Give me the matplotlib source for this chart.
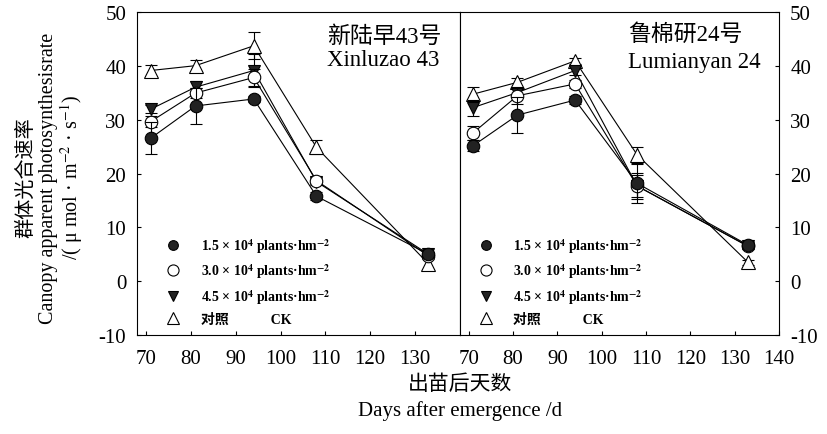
import matplotlib
matplotlib.use("Agg")
import matplotlib.pyplot as plt
from matplotlib.lines import Line2D

plt.rcParams['font.family'] = ['Liberation Serif', 'Noto Sans CJK SC']
plt.rcParams['mathtext.fontset'] = 'stix'
plt.rcParams['axes.unicode_minus'] = False

days = [71, 81, 94, 108, 133]

# Xinluzao 43
xl_15 = [26.6, 32.6, 33.9, 15.8, 5.0]
xl_15_err = [3.0, 3.4, 0.6, 0.7, 0.5]
xl_30 = [29.7, 35.0, 37.9, 18.7, 4.7]
xl_30_err = [1.0, 1.0, 1.6, 0.6, 0.5]
xl_45 = [32.0, 36.1, 39.2, 18.5, 5.0]
xl_45_err = [0.8, 1.2, 3.0, 0.6, 0.5]
xl_ck = [39.2, 40.1, 43.8, 24.9, 3.2]
xl_ck_err = [1.0, 1.0, 2.5, 1.3, 1.2]

# Lumianyan 24
lm_15 = [25.2, 30.9, 33.7, 18.2, 6.7]
lm_15_err = [1.0, 3.3, 0.8, 3.6, 0.5]
lm_30 = [27.6, 34.5, 36.7, 17.7, 6.5]
lm_30_err = [1.3, 1.5, 0.8, 2.5, 0.5]
lm_45 = [32.3, 35.1, 39.2, 17.7, 6.5]
lm_45_err = [1.5, 0.8, 0.8, 2.0, 0.5]
lm_ck = [34.8, 37.0, 41.0, 23.5, 3.5]
lm_ck_err = [1.3, 0.8, 0.6, 1.5, 0.5]

labels = [r"1.5 × 10$^{\mathbf{4}}$ plants·hm$^{\mathbf{-2}}$",
          r"3.0 × 10$^{\mathbf{4}}$ plants·hm$^{\mathbf{-2}}$",
          r"4.5 × 10$^{\mathbf{4}}$ plants·hm$^{\mathbf{-2}}$",
          "对照            CK"]
markers = ['o', 'o', 'v', '^']
faces = ['#222222', 'white', '#222222', 'white']

fig = plt.figure(figsize=(8.27, 4.35), dpi=100)
axl = fig.add_axes([0.166, 0.228, 0.39, 0.741])
axr = fig.add_axes([0.556, 0.228, 0.386, 0.741])


def draw(ax, series, errs, leg_x):
    # draw CK first so treatments stay on top
    for i in [3, 2, 1, 0]:
        ax.errorbar(days, series[i], yerr=errs[i], color='black', lw=0.8,
                    marker=markers[i], ms=9 if i != 3 else 10,
                    mfc=faces[i], mec='black', mew=0.8,
                    capsize=4, elinewidth=0.8, capthick=0.8, zorder=3 + (3 - i))
    ax.set_xlim(68, 140)
    ax.set_ylim(-10, 50)
    ax.set_yticks(range(-10, 51, 10))
    ax.tick_params(direction='in', length=3, labelsize=15, width=0.8, pad=8)
    ax.tick_params(axis='x', pad=10)
    for s in ax.spines.values():
        s.set_linewidth(0.8)
    handles = [Line2D([], [], ls='none', marker=markers[i], ms=7 if i in (0, 2) else 8,
                      mfc=faces[i], mec='black', mew=0.8) for i in range(4)]
    ax.legend(handles, labels, loc='lower left', bbox_to_anchor=(leg_x, -0.012),
              frameon=False, handlelength=1.0, handletextpad=1.5,
              labelspacing=0.5, prop={'weight': 'bold', 'size': 10,
                                      'family': ['Liberation Serif', 'Noto Sans CJK SC']})


draw(axl, [xl_15, xl_30, xl_45, xl_ck], [xl_15_err, xl_30_err, xl_45_err, xl_ck_err], 0.05)
draw(axr, [lm_15, lm_30, lm_45, lm_ck], [lm_15_err, lm_30_err, lm_45_err, lm_ck_err], 0.02)

axl.set_xticks(range(70, 131, 10))
axr.set_xticks(range(70, 141, 10))
axr.yaxis.tick_right()
axr.tick_params(axis='y', which='both', left=False, right=True, labelright=True)

axl.text(0.588, 0.96, "新陆早43号\nXinluzao 43", transform=axl.transAxes,
         ha='left', va='top', fontsize=16.5, linespacing=1.15)
axr.text(0.527, 0.965, "鲁棉研24号\nLumianyan 24", transform=axr.transAxes,
         ha='left', va='top', fontsize=16.5, linespacing=1.35)

fig.text(0.032, 0.591, "群体光合速率", rotation=90, ha='center', va='center', fontsize=14.5)
fig.text(0.059, 0.591, "Canopy apparent photosynthesisrate", rotation=90,
         ha='center', va='center', fontsize=14.5)
fig.text(0.086, 0.591, r"/( μ mol · m$^{-2}$ · s$^{-1}$)", rotation=90,
         ha='center', va='center', fontsize=14.5)

fig.text(0.556, 0.115, "出苗后天数", ha='center', va='center', fontsize=15)
fig.text(0.556, 0.055, "Days after emergence /d", ha='center', va='center', fontsize=15)

fig.savefig("out.png", dpi=100)
